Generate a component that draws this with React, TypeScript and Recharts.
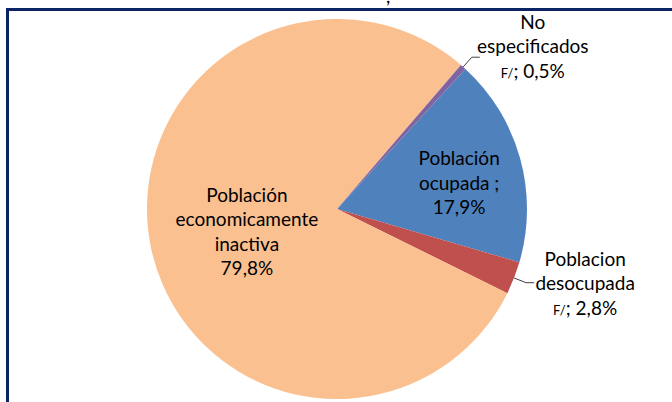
import { PieChart, Pie, Cell } from "recharts";

const categories = [
  "Población ocupada",
  "Poblacion desocupada",
  "Población economicamente inactiva",
  "No especificados",
];
const values = [17.9, 2.8, 79.8, 0.5];
const valueLabels = ["17,9%", "2,8%", "79,8%", "0,5%"];
const nameLines = [
  ["Población", "ocupada ;"],
  ["Poblacion", "desocupada"],
  ["Población", "economicamente", "inactiva"],
  ["No", "especificados"],
];
const footnote = ["", "F/", "", "F/"];

const COLORS = ["#4F81BD", "#C0504D", "#FAC090", "#8064A2"];

const data = categories.map((name, i) => ({ name, value: values[i] }));

const FONT = "Lato, 'Open Sans', sans-serif";
const LINE_H = 24.5;
const RADIAN = Math.PI / 180;

// inside labels sit at a fraction of the radius, outside ones get an elbow leader
const layout = [
  { inside: true, r: 0.64, dx: 5, dy: 7 },
  { inside: false, r: 0, dx: 51, dy: 1 },
  { inside: true, r: 0.5, dx: 3, dy: 4 },
  { inside: false, r: 0, dx: 53, dy: -10.5 },
];

const renderLabel = (props: any) => {
  const { cx, cy, midAngle, outerRadius, index } = props;
  const cos = Math.cos(-midAngle * RADIAN);
  const sin = Math.sin(-midAngle * RADIAN);
  const L = layout[index];
  const lines: any[] = nameLines[index].map((t) => t);
  const last = footnote[index] ? (
    <>
      <tspan fontSize={13}>{footnote[index]}</tspan>
      <tspan>; {valueLabels[index]}</tspan>
    </>
  ) : (
    valueLabels[index]
  );
  lines.push(last);
  const n = lines.length;

  let x: number;
  let y: number;
  let leader = null;
  if (L.inside) {
    x = cx + outerRadius * L.r * cos + L.dx;
    y = cy + outerRadius * L.r * sin + L.dy;
  } else {
    const sx = cx + outerRadius * cos;
    const sy = cy + outerRadius * sin;
    const ex = cx + (outerRadius + 13) * cos;
    const ey = cy + (outerRadius + 13) * sin;
    const hx = ex + 8;
    leader = (
      <path
        d={`M${sx},${sy}L${ex},${ey}L${hx},${ey}`}
        stroke="#404040"
        strokeWidth={1}
        fill="none"
      />
    );
    x = hx + L.dx;
    y = ey + L.dy + LINE_H / 2 - (n % 2 === 1 ? LINE_H / 2 : 0);
  }
  // alphabetic baseline so the small "F/" sits on the same line
  const top = y - ((n - 1) * LINE_H) / 2 + 6.5;

  return (
    <g key={`lbl-${index}`}>
      {leader}
      <text
        x={x}
        y={top}
        textAnchor="middle"
        fontFamily={FONT}
        fontSize={19}
        fill="#000"
      >
        {lines.map((ln, i) => (
          <tspan key={i} x={x} y={top + i * LINE_H}>
            {ln}
          </tspan>
        ))}
      </text>
    </g>
  );
};

export default function App() {
  return (
    <div
      style={{
        position: "absolute",
        left: 0,
        top: 0,
        width: 672,
        height: 402,
        background: "#fff",
        overflow: "hidden",
      }}
    >
      <div
        style={{
          position: "absolute",
          left: 6,
          top: 8,
          width: 700,
          height: 420,
          borderTop: "3px solid #0B2466",
          borderLeft: "3px solid #0B2466",
        }}
      />
      <div
        style={{
          position: "absolute",
          left: 386,
          top: -16,
          fontFamily: FONT,
          fontSize: 19,
          color: "#000",
        }}
      >
        ,
      </div>
      <PieChart
        width={672}
        height={402}
        margin={{ top: 0, right: 0, bottom: 0, left: 0 }}
        style={{ position: "absolute", left: 0, top: 0 }}
      >
        <Pie
          data={data}
          dataKey="value"
          cx={337}
          cy={209}
          outerRadius={190}
          startAngle={47.5}
          endAngle={-312.5}
          stroke="none"
          labelLine={false}
          label={renderLabel}
          isAnimationActive={false}
        >
          {data.map((_, index) => (
            <Cell key={`cell-${index}`} fill={COLORS[index]} />
          ))}
        </Pie>
      </PieChart>
    </div>
  );
}
